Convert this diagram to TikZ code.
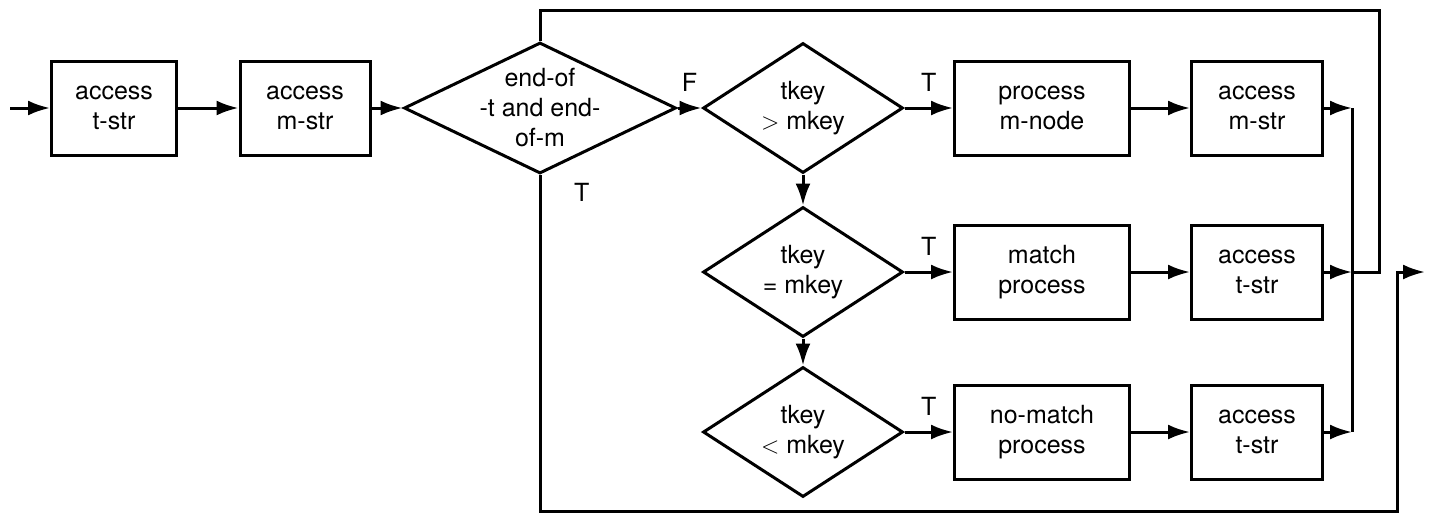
\documentclass[tikz,border=0pt]{standalone}
\usepackage{fontspec}
\setmainfont{TeX Gyre Heros}
\usetikzlibrary{shapes.geometric,arrows.meta}
\begin{document}
\begin{tikzpicture}[x=0.5pt, y=-0.5pt, >={Latex[length=11pt,width=7.5pt]}, line width=1.5pt,
  font=\fontsize{12.5}{15}\selectfont,
  kasten/.style={draw, rectangle, align=center, inner sep=0pt, minimum height=47pt},
  raute/.style={draw, diamond, align=center, inner sep=-10pt, minimum width=100pt, minimum height=65pt},
  marke/.style={above=4pt}]
\useasboundingbox (0,0) rectangle (1430,515);
% Hilfspunkte
\coordinate (S)  at (10,108);
\coordinate (M1) at (1352,108);
\coordinate (M2) at (1352,272);
\coordinate (M3) at (1352,432);
\coordinate (Oa) at (1379,272);
\coordinate (Ob) at (1379,10);
\coordinate (Ua) at (1397,511);
\coordinate (X)  at (1425,272);
% erste Zeile
\node[kasten, minimum width=62.5pt] (A1) at (114,108) {access\\t-str};
\node[kasten, minimum width=65pt]   (A2) at (305,108) {access\\m-str};
\node[raute, minimum width=136pt, minimum height=65.5pt] (D1) at (540,108) {end-of\\-t and end-\\of-m};
% Vergleiche
\node[raute] (D2) at (803,108) {tkey\\$>$ mkey};
\node[raute] (D3) at (803,272) {tkey\\= mkey};
\node[raute] (D4) at (803,432) {tkey\\$<$ mkey};
% Verarbeitung
\node[kasten, minimum width=87.5pt] (P1) at (1042,108) {process\\m-node};
\node[kasten, minimum width=87.5pt] (P2) at (1042,272) {match\\process};
\node[kasten, minimum width=87.5pt] (P3) at (1042,432) {no-match\\process};
\node[kasten, minimum width=65.5pt] (Q1) at (1257,108) {access\\m-str};
\node[kasten, minimum width=65.5pt] (Q2) at (1257,272) {access\\t-str};
\node[kasten, minimum width=65.5pt] (Q3) at (1257,432) {access\\t-str};
% Pfeile
\draw[->] (S) -- (A1);
\draw[->] (A1) -- (A2);
\draw[->] (A2) -- (D1);
\draw[->] (D1) -- node[marke] (lF) {F} (D2);
\draw[->] (D2) -- node[marke] (lT1) {T} (P1);
\draw[->] (D3) -- node[marke] (lT2) {T} (P2);
\draw[->] (D4) -- node[marke] (lT3) {T} (P3);
\draw[->] (D2) -- (D3);
\draw[->] (D3) -- (D4);
\draw[->] (P1) -- (Q1);
\draw[->] (P2) -- (Q2);
\draw[->] (P3) -- (Q3);
\draw[->] (Q1) -- (M1);
\draw[->] (Q2) -- (M2);
\draw[->] (Q3) -- (M3);
\draw (M1) -- (M3);
% Schleife zurueck
\draw (M2) -- (Oa) -- (Ob) -| (D1.north);
% Ausgang
\draw[->] (D1.south) |- (Ua) |- (X);
\node[anchor=north west] (lT0) at ([xshift=13pt]D1.south) {T};
\end{tikzpicture}
\end{document}
